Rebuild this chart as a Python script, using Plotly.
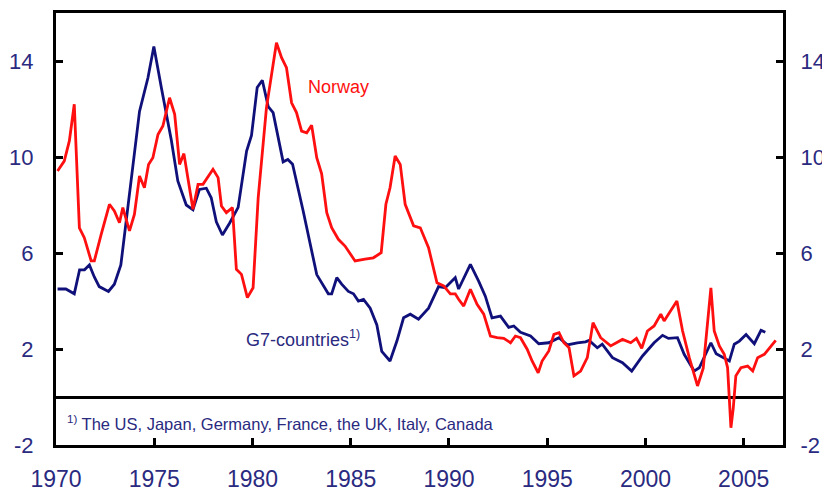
import plotly.graph_objects as go

g7_years = [1970.08, 1970.5, 1970.93, 1971.2, 1971.45, 1971.7, 1971.95, 1972.2, 1972.67, 1972.97,
            1973.3, 1973.66, 1973.9, 1974.25, 1974.68, 1974.98, 1975.36, 1975.87, 1976.2, 1976.63,
            1976.97, 1977.3, 1977.65, 1977.9, 1978.16, 1978.47, 1978.84, 1979.27, 1979.7, 1979.95,
            1980.24, 1980.5, 1980.8, 1981.05, 1981.56, 1981.8, 1982.04, 1982.58, 1983.27, 1983.52,
            1983.86, 1984.03, 1984.29, 1984.54, 1984.88, 1985.14, 1985.39, 1985.65, 1985.99, 1986.33,
            1986.58, 1987.0, 1987.35, 1987.69, 1988.03, 1988.45, 1988.96, 1989.47, 1989.81, 1990.15,
            1990.32, 1990.49, 1991.09, 1991.51, 1991.85, 1992.19, 1992.62, 1993.04, 1993.3, 1993.64,
            1994.15, 1994.57, 1995.08, 1995.6, 1996.02, 1996.53, 1996.95, 1997.13, 1997.55, 1997.8,
            1998.32, 1998.83, 1999.3, 1999.85, 2000.44, 2000.87, 2001.17, 2001.63, 2001.97, 2002.48,
            2002.74, 2003.33, 2003.6, 2004.27, 2004.52, 2004.78, 2005.12, 2005.54, 2005.88, 2006.1]
g7_values = [4.5, 4.5, 4.3, 5.3, 5.3, 5.5, 5.0, 4.6, 4.4, 4.7,
             5.5, 7.9, 9.4, 11.9, 13.3, 14.6, 12.9, 10.7, 9.0, 8.0,
             7.8, 8.65, 8.7, 8.3, 7.3, 6.75, 7.25, 7.9, 10.25, 10.9,
             12.9, 13.2, 12.1, 11.85, 9.8, 9.9, 9.7, 7.75, 5.1, 4.75,
             4.3, 4.3, 4.97, 4.7, 4.4, 4.3, 4.0, 4.07, 3.7, 3.0,
             1.9, 1.5, 2.33, 3.3, 3.45, 3.24, 3.7, 4.6, 4.55, 4.83,
             4.97, 4.5, 5.53, 4.83, 4.2, 3.3, 3.37, 2.9, 2.96, 2.7,
             2.54, 2.22, 2.26, 2.47, 2.17, 2.26, 2.3, 2.36, 2.05, 2.2,
             1.64, 1.43, 1.08, 1.71, 2.26, 2.57, 2.44, 2.47, 1.78, 1.08,
             1.22, 2.26, 1.8, 1.5, 2.2, 2.33, 2.6, 2.22, 2.78, 2.7]

norway_years = [1970.08, 1970.42, 1970.68, 1970.93, 1971.19, 1971.44, 1971.79, 1971.95, 1972.3, 1972.72,
                1972.97, 1973.23, 1973.4, 1973.74, 1973.99, 1974.25, 1974.5, 1974.71, 1974.93, 1975.19,
                1975.44, 1975.78, 1976.04, 1976.29, 1976.51, 1976.8, 1976.97, 1977.23, 1977.48, 1977.99,
                1978.25, 1978.42, 1978.67, 1978.98, 1979.18, 1979.44, 1979.74, 1980.03, 1980.29, 1980.71,
                1981.22, 1981.48, 1981.73, 1981.99, 1982.24, 1982.5, 1982.76, 1983.01, 1983.27, 1983.52,
                1983.78, 1984.03, 1984.37, 1984.71, 1985.22, 1985.73, 1986.15, 1986.55, 1986.79, 1987.0,
                1987.26, 1987.52, 1987.77, 1988.2, 1988.54, 1988.96, 1989.22, 1989.39, 1989.73, 1990.07,
                1990.32, 1990.49, 1990.75, 1991.09, 1991.43, 1991.77, 1992.11, 1992.45, 1992.79, 1993.13,
                1993.38, 1993.64, 1993.98, 1994.23, 1994.54, 1994.74, 1995.08, 1995.34, 1995.6, 1995.85,
                1996.11, 1996.36, 1996.7, 1997.04, 1997.33, 1997.72, 1998.23, 1998.83, 1999.25, 1999.54,
                1999.81, 2000.1, 2000.44, 2000.78, 2000.95, 2001.21, 2001.6, 2001.89, 2002.23, 2002.65,
                2002.94, 2003.33, 2003.5, 2003.76, 2004.01, 2004.18, 2004.35, 2004.47, 2004.6, 2004.86,
                2005.2, 2005.46, 2005.71, 2006.05, 2006.38, 2006.63]
norway_values = [9.42, 9.83, 10.67, 12.2, 7.05, 6.64, 5.67, 5.67, 6.78, 8.03,
                 7.75, 7.26, 7.89, 6.92, 7.61, 9.21, 8.72, 9.69, 9.97, 10.94,
                 11.29, 12.47, 11.78, 9.69, 10.14, 8.72, 7.82, 8.86, 8.86, 9.49,
                 9.14, 7.96, 7.68, 7.89, 5.32, 5.11, 4.14, 4.55, 8.3, 12.05,
                 14.76, 14.14, 13.72, 12.26, 11.85, 11.08, 11.01, 11.32, 9.97, 9.3,
                 7.68, 7.05, 6.57, 6.29, 5.67, 5.74, 5.8, 6.01, 8.03, 8.72,
                 10.04, 9.69, 8.03, 7.13, 7.05, 6.22, 5.25, 4.76, 4.63, 4.3,
                 4.3, 4.07, 3.79, 4.49, 3.86, 3.45, 2.54, 2.47, 2.44, 2.26,
                 2.54, 2.47, 1.99, 1.5, 1.01, 1.5, 1.92, 2.61, 2.68, 2.26,
                 2.05, 0.88, 1.08, 1.64, 3.1, 2.47, 2.13, 2.4, 2.26, 2.44,
                 2.03, 2.75, 2.96, 3.45, 3.17, 3.51, 4.0, 2.75, 1.64, 0.46,
                 1.2, 4.55, 2.75, 2.13, 1.78, 1.22, -1.28, -0.45, 0.88, 1.22,
                 1.29, 1.08, 1.64, 1.78, 2.13, 2.36]

x_ticks = [1970, 1975, 1980, 1985, 1990, 1995, 2000, 2005]
y_ticks = [-2, 2, 6, 10, 14]
y_tick_labels = ["-2", "2", "6", "10", "14"]

NAVY = "#10107a"
LABEL = "#2a2a80"
RED = "#ff0f0f"
FONT = "Liberation Sans, Arial, sans-serif"

fig = go.Figure()
fig.add_trace(go.Scatter(x=g7_years, y=g7_values, mode="lines", name="G7-countries",
                         line=dict(color=NAVY, width=2.8), yaxis="y"))
fig.add_trace(go.Scatter(x=norway_years, y=norway_values, mode="lines", name="Norway",
                         line=dict(color=RED, width=2.8), yaxis="y2"))

axis_common = dict(range=[-2, 16], tickvals=y_ticks, ticktext=y_tick_labels, ticks="inside",
                   ticklen=7, tickwidth=2.5, automargin=False,
                   tickcolor="black", showgrid=False, showline=True, linecolor="black", linewidth=3,
                   tickfont=dict(family=FONT, size=22, color=LABEL))

fig.update_layout(
    width=822, height=484,
    margin=dict(l=48, r=47, t=5, b=47),
    plot_bgcolor="white", paper_bgcolor="white",
    showlegend=False,
    font=dict(family=FONT, color=LABEL),
    xaxis=dict(range=[1970, 2007], tickvals=x_ticks, ticks="inside", ticklen=7, tickwidth=2.5,
               tickcolor="black", showgrid=False, showline=True, mirror=True, linecolor="black",
               linewidth=3, zeroline=False, automargin=False,
               tickfont=dict(family=FONT, size=23, color=LABEL), ticklabelstandoff=11),
    yaxis=dict(**axis_common, side="left", zeroline=True, zerolinecolor="black", zerolinewidth=2.5,
               ticklabelstandoff=15),
    yaxis2=dict(**axis_common, side="right", overlaying="y", zeroline=False, ticklabelstandoff=10),
)

fig.add_annotation(x=1984.4, y=12.9, xref="x", yref="y", text="Norway", showarrow=False,
                   font=dict(family=FONT, size=18, color=RED))
fig.add_annotation(x=1979.55, y=2.42, xref="x", yref="y", xanchor="left",
                   text="G7-countries<sup>1)</sup>", showarrow=False,
                   font=dict(family=FONT, size=18, color=LABEL))
fig.add_annotation(x=1970.45, y=-1.1, xref="x", yref="y", xanchor="left",
                   text="<sup>1)</sup> The US, Japan, Germany, France, the UK, Italy, Canada",
                   showarrow=False, font=dict(family=FONT, size=16.5, color=LABEL))

fig.write_html("out.html")
